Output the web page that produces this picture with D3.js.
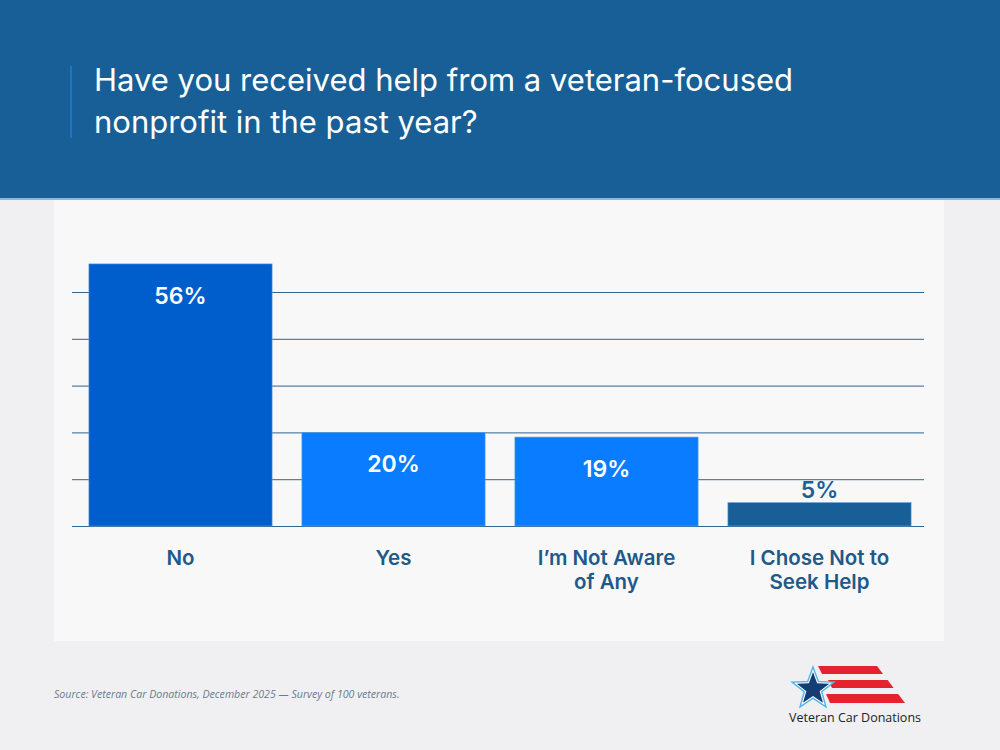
<!DOCTYPE html>
<html>
<head>
<meta charset="utf-8">
<script src="https://cdn.jsdelivr.net/npm/d3@7"></script>
<style>
  body { margin: 0; background: #f0f0f2; }
  svg { display: block; }
</style>
</head>
<body>
<svg width="1000" height="750"></svg>
<script>
// chart data
var categories = ["No", "Yes", "I’m Not Aware of Any", "I Chose Not to Seek Help"];
var catLines = [["No"], ["Yes"], ["I’m Not Aware", "of Any"], ["I Chose Not to", "Seek Help"]];
var values = [56, 20, 19, 5];
var barColors = ["#005ecc", "#0a7cff", "#0a7cff", "#175f96"];
var gridTicks = [0, 10, 20, 30, 40, 50];

var svg = d3.select("svg");

// header band
svg.append("rect").attr("x", 0).attr("y", 0).attr("width", 1000).attr("height", 199)
  .attr("fill", "#175f96");
svg.append("rect").attr("x", 0).attr("y", 198).attr("width", 1000).attr("height", 2)
  .attr("fill", "#8fb6d8");
svg.append("rect").attr("x", 70).attr("y", 66).attr("width", 2).attr("height", 72)
  .attr("fill", "#1d74c8");

var title = svg.append("text")
  .attr("x", 94).attr("y", 91)
  .attr("fill", "#fff")
  .style("font-family", "Inter, 'Liberation Sans', sans-serif")
  .style("font-size", "31px");
title.append("tspan").attr("x", 94).text("Have you received help from a veteran-focused");
title.append("tspan").attr("x", 94).attr("dy", 42).text("nonprofit in the past year?");

// chart panel
svg.append("rect").attr("x", 54).attr("y", 200).attr("width", 890).attr("height", 441)
  .attr("fill", "#f8f8f8");

var x = d3.scaleBand().domain(categories).range([74, 926]).paddingInner(0.14).paddingOuter(0.07);
var y = d3.scaleLinear().domain([0, 50]).range([526, 292]);

// gridlines
svg.append("g").selectAll("line").data(gridTicks).join("line")
  .attr("x1", 72).attr("x2", 924)
  .attr("y1", function(d) { return y(d) + 0.5; })
  .attr("y2", function(d) { return y(d) + 0.5; })
  .attr("stroke", "#2f6591").attr("stroke-width", 1);

// bars
svg.append("g").selectAll("rect").data(values).join("rect")
  .attr("x", function(d, i) { return x(categories[i]); })
  .attr("y", function(d) { return y(d); })
  .attr("width", x.bandwidth())
  .attr("height", function(d) { return y(0) - y(d); })
  .attr("fill", function(d, i) { return barColors[i]; })
  .attr("stroke", "#5fa0e0").attr("stroke-width", 0.6);

// value labels
svg.append("g").selectAll("text").data(values).join("text")
  .attr("x", function(d, i) { return x(categories[i]) + x.bandwidth() / 2; })
  .attr("y", function(d) { return d < 10 ? y(d) - 5 : y(d) + 40; })
  .attr("text-anchor", "middle")
  .attr("fill", function(d) { return d < 10 ? "#175f96" : "#fff"; })
  .style("font-family", "Inter, 'Liberation Sans', sans-serif")
  .style("font-weight", 600)
  .style("font-size", "23px")
  .text(function(d) { return d + "%"; });

// category labels
var cl = svg.append("g").selectAll("text").data(catLines).join("text")
  .attr("text-anchor", "middle")
  .attr("fill", "#1d5a8a")
  .style("font-family", "Inter, 'Liberation Sans', sans-serif")
  .style("font-weight", 600)
  .style("font-size", "20.5px");
cl.each(function(lines, i) {
  var cx = x(categories[i]) + x.bandwidth() / 2;
  d3.select(this).selectAll("tspan").data(lines).join("tspan")
    .attr("x", cx)
    .attr("y", function(d, j) { return 565 + j * 24; })
    .text(function(d) { return d; });
});

// source
svg.append("text").attr("x", 54).attr("y", 698)
  .attr("fill", "#6b7a8c")
  .style("font-family", "'Open Sans', sans-serif")
  .style("font-style", "italic")
  .style("font-size", "10.6px")
  .text("Source: Veteran Car Donations, December 2025 — Survey of 100 veterans.");

// logo
var logo = svg.append("g");
[[666, 674, 818], [680, 688, 828], [694, 703, 826]].forEach(function(s) {
  var top = s[0], bot = s[1];
  var xr = function(yy) { return 877 + (yy - 666) * (28 / 37); };
  logo.append("path")
    .attr("d", "M" + s[2] + "," + top + "L" + xr(top) + "," + top + "L" + xr(bot) + "," + bot + "L" + (s[2] + 4) + "," + bot + "Z")
    .attr("fill", "#e5232e");
});
var star = function(cx, cy, ro, ri) {
  var pts = [];
  for (var k = 0; k < 10; k++) {
    var a = -Math.PI / 2 + k * Math.PI / 5;
    var r = k % 2 ? ri : ro;
    pts.push([cx + r * Math.cos(a), cy + r * Math.sin(a)]);
  }
  return "M" + pts.join("L") + "Z";
};
logo.append("path").attr("d", star(813, 689, 24, 10)).attr("fill", "#4fb3ec");
logo.append("path").attr("d", star(813, 689, 20, 8.3)).attr("fill", "#fff");
logo.append("path").attr("d", star(813, 689, 17, 7)).attr("fill", "#153d73");
logo.append("text").attr("x", 855).attr("y", 722)
  .attr("text-anchor", "middle")
  .attr("fill", "#222")
  .style("font-family", "'Open Sans', sans-serif")
  .style("font-size", "12.5px")
  .text("Veteran Car Donations");
</script>
</body>
</html>
